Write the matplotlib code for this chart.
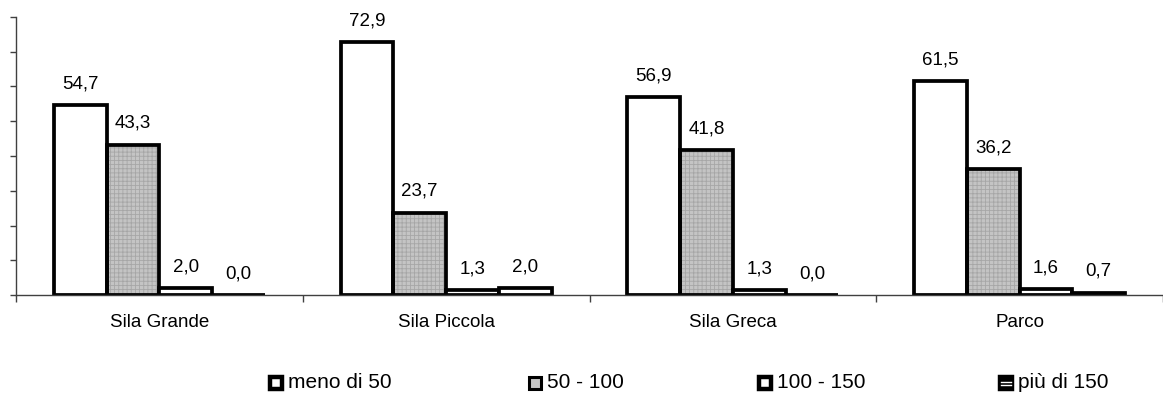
import numpy as np
import matplotlib
matplotlib.use('Agg')
import matplotlib.pyplot as plt
import matplotlib.patches as patches

plt.rcParams['font.family'] = ['Liberation Sans', 'DejaVu Sans']
plt.rcParams['hatch.linewidth'] = 0.6

# ── DATA ───────────────────────────────────────────────────
categories = ['Sila Grande', 'Sila Piccola', 'Sila Greca', 'Parco']
series     = ['meno di 50', '50 - 100', '100 - 150', 'più di 150']
meno_50    = [54.7, 72.9, 56.9, 61.5]
da_50_100  = [43.3, 23.7, 41.8, 36.2]
da_100_150 = [2.0, 1.3, 1.3, 1.6]
piu_150    = [0.0, 2.0, 0.0, 0.7]
values     = [meno_50, da_50_100, da_100_150, piu_150]

# ── STYLE ──────────────────────────────────────────────────
W, H   = 1163, 398
AXIS_C = '#404040'
SHADE  = '#c4c4c4'
EDGE_W = 2.7
BAR_W  = 0.184

fig = plt.figure(figsize=(W / 100, H / 100), dpi=100)
ax = fig.add_axes([16 / W, (H - 295) / H, (W - 16) / W, (295 - 17) / H])

x = np.arange(len(categories))
offsets = (np.arange(len(series)) - 1.5) * BAR_W

for i, (name, vals) in enumerate(zip(series, values)):
    pos = x + offsets[i]
    if i == 1:
        # textured grey fill, then the black outline on top
        ax.bar(pos, vals, BAR_W, color=SHADE, edgecolor='#a6a6a6',
               hatch='++++', linewidth=0, zorder=2)
        ax.bar(pos, vals, BAR_W, color='none', edgecolor='black',
               linewidth=EDGE_W, zorder=3)
    else:
        ax.bar(pos, vals, BAR_W, color='white', edgecolor='black',
               linewidth=EDGE_W, zorder=3)
    for px, v in zip(pos, vals):
        ax.annotate(f'{v:.1f}'.replace('.', ','), (px, v), xytext=(0, 12),
                    textcoords='offset points', ha='center', va='baseline',
                    fontsize=13.5, color='black')

ax.set_ylim(0, 80)
ax.set_xlim(-0.5, -0.5 + (W - 16) / 288)
ax.set_yticks(np.arange(0, 81, 10))
ax.set_yticklabels([])
ax.tick_params(axis='y', direction='out', length=4, width=1, color=AXIS_C)

ax.set_xticks(x)
ax.set_xticklabels(categories, fontsize=13.5)
ax.set_xticks(np.arange(-0.5, len(categories), 1), minor=True)
ax.tick_params(axis='x', which='major', length=0, pad=14)
ax.tick_params(axis='x', which='minor', length=5, width=1, color=AXIS_C)

for s in ['top', 'right']:
    ax.spines[s].set_visible(False)
for s in ['left', 'bottom']:
    ax.spines[s].set_color(AXIS_C)
    ax.spines[s].set_linewidth(1)
ax.spines['bottom'].set_zorder(4)

# ── LEGEND (drawn by hand to match the spacing) ────────────
leg_x  = [268, 527, 757, 998]
leg_yc = 383
box    = 12
for i, (name, lx) in enumerate(zip(series, leg_x)):
    rx, ry = lx + 2, H - leg_yc - box / 2
    if i == 1:
        fc, lw = SHADE, 2.2
    elif i == 3:
        fc, lw = 'black', 3.2
    else:
        fc, lw = 'white', 3.2
    fig.add_artist(patches.Rectangle((rx / W, ry / H), box / W, box / H,
                   facecolor=fc, edgecolor='black', linewidth=lw,
                   transform=fig.transFigure))
    if i == 3:
        for dy in (-1.5, 1.5):
            fig.add_artist(plt.Line2D([(rx + 1) / W, (rx + box - 1) / W],
                           [(H - leg_yc + dy) / H] * 2, color='white',
                           linewidth=1.0, transform=fig.transFigure))
    fig.text((lx + 20) / W, (H - leg_yc) / H, name, ha='left', va='center',
             fontsize=15, color='black')

fig.savefig('out.png', dpi=100, facecolor='white')
